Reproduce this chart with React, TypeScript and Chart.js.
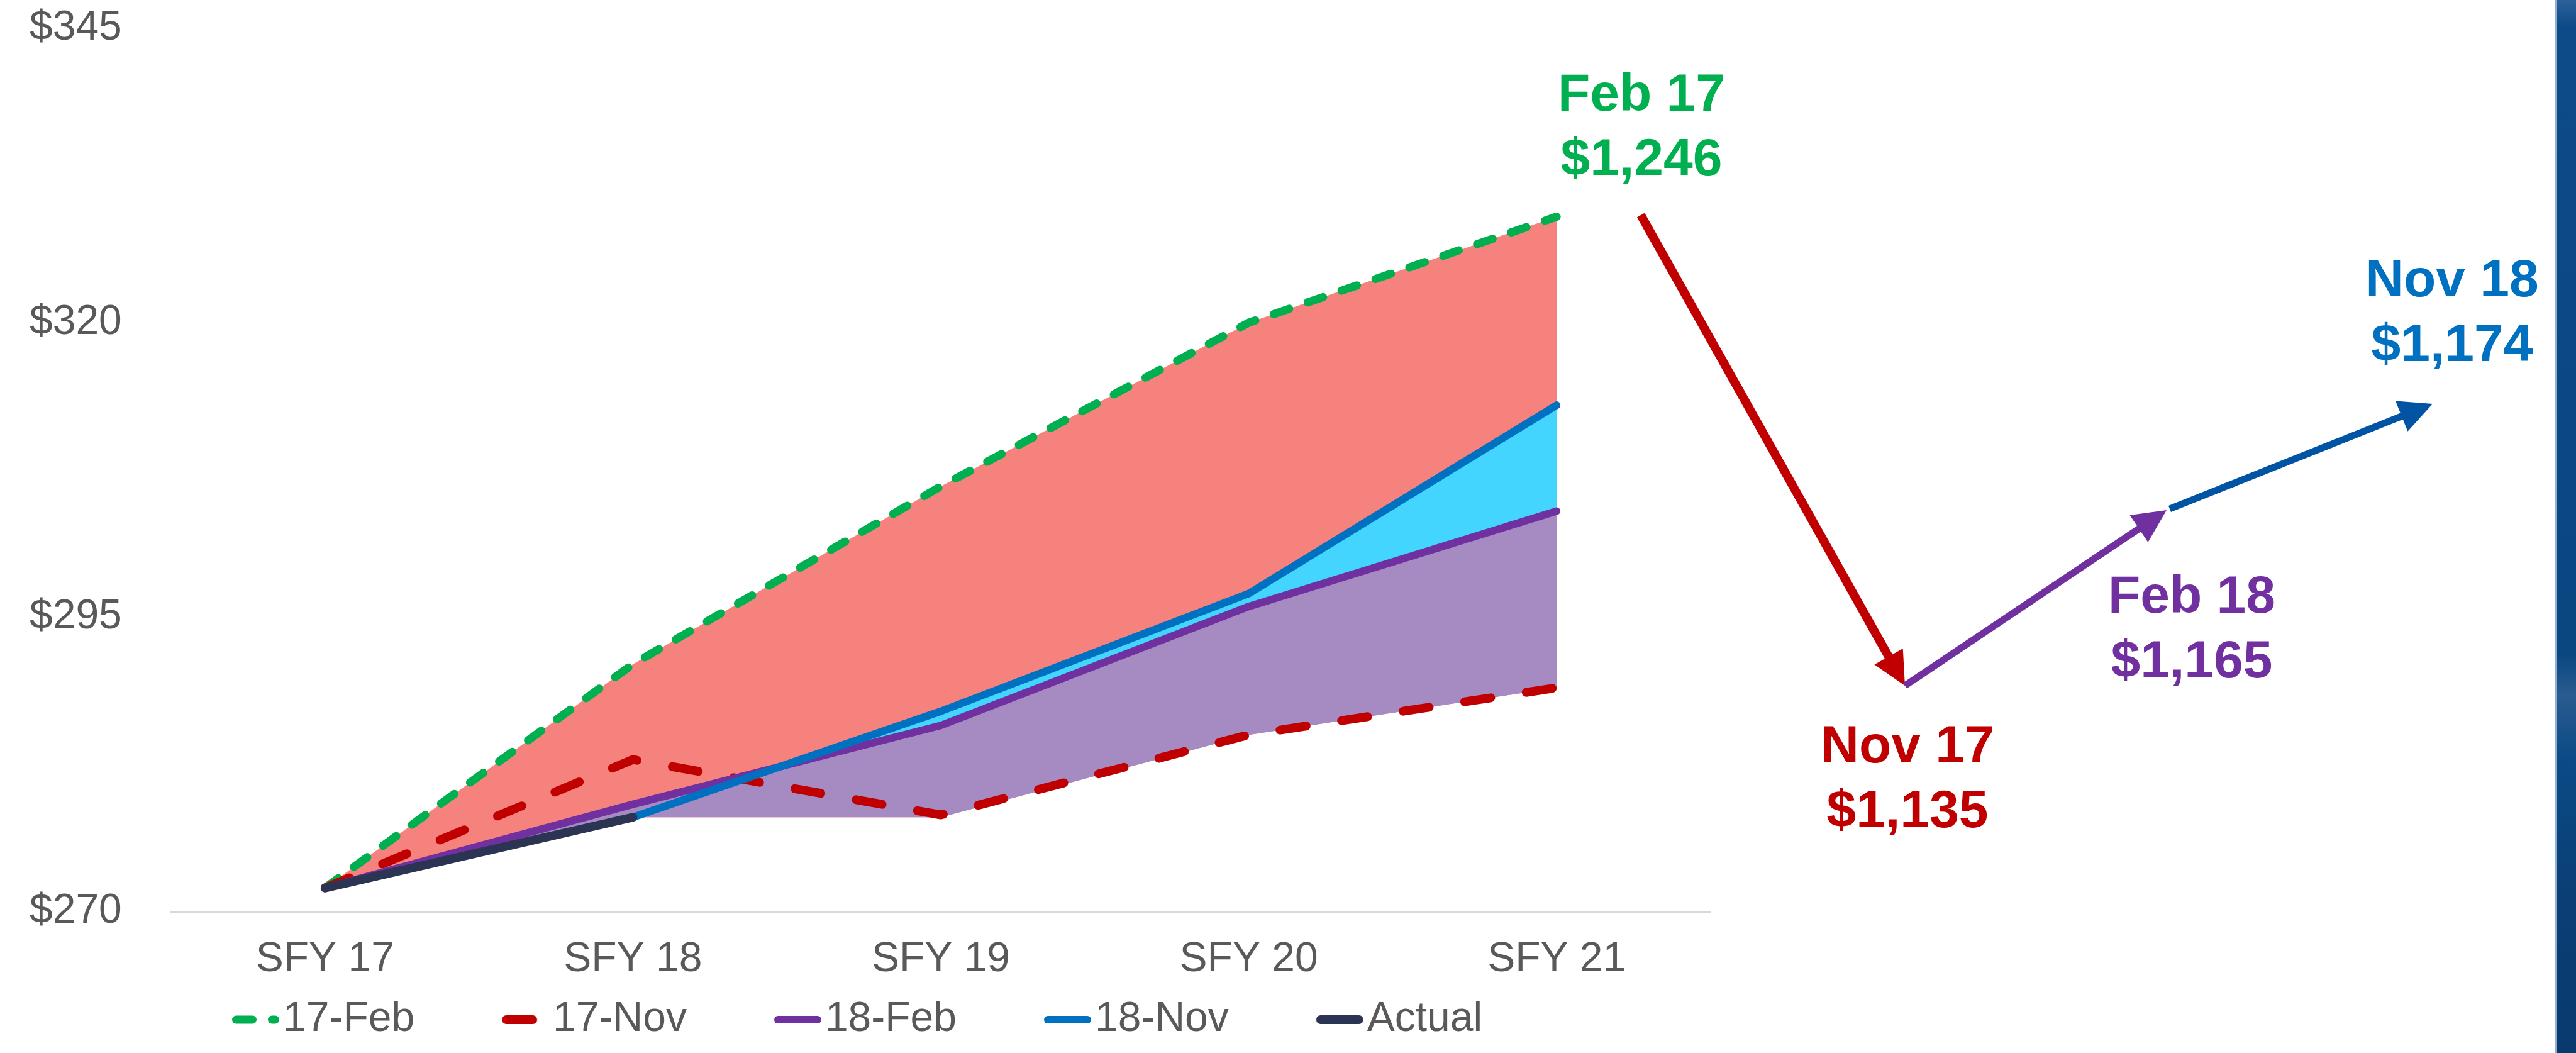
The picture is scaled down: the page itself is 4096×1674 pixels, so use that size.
import React, { useEffect, useRef } from 'react';
import { Chart, registerables } from 'chart.js';

Chart.register(...registerables);

// ---------------- data ----------------
const categories = ['SFY 17', 'SFY 18', 'SFY 19', 'SFY 20', 'SFY 21'];
const feb17 = [272, 291.0, 306.1, 320.0, 329.0];
const nov17 = [272, 282.9, 278.2, 285.0, 289.0];
const feb18 = [272, 279.1, 285.8, 295.9, 304.0];
const nov18 = [null, 278.0, 287.0, 297.0, 313.0];
const actual = [272, 278.0, null, null, null];
const bandFloor = [272, 278.0, 278.0, 285.0, 289.0];
const yTicks = [270, 295, 320, 345];
const calloutMonths = ['Feb 17', 'Nov 17', 'Feb 18', 'Nov 18'];
const calloutTotals = ['$1,246', '$1,135', '$1,165', '$1,174'];

// ---------------- style / layout ----------------
const FONT = "'Liberation Sans', Arial, Helvetica, sans-serif";
const TEXT_GREY = '#595959';
const C = {
  green: '#00B050',
  red: '#C00000',
  purple: '#7030A0',
  blue: '#0070C0',
  navy: '#2B3553',
  salmon: '#F5827C',
  lavender: '#A68BC2',
  cyan: '#43D5FE',
  arrowBlue: '#0153A4',
};
const W = 4096;
const H = 1674;
const CANVAS_W = 2726;
const TICK_FONT = 66;
const CALLOUT_FONT = 84;
const CALLOUT_LINE = 103;
const PLOT_LEFT = 272;
const PAD_LEFT = 230;
const Y_LABEL_LEFT = 47;

const lineSpecs = [
  { label: '17-Feb', data: feb17, color: C.green, width: 13, dash: [26, 31] },
  { label: '17-Nov', data: nov17, color: C.red, width: 14, dash: [42, 57] },
  { label: '18-Feb', data: feb18, color: C.purple, width: 12, dash: [] as number[] },
  { label: '18-Nov', data: nov18, color: C.blue, width: 12, dash: [] as number[] },
  { label: 'Actual', data: actual, color: C.navy, width: 14, dash: [] as number[] },
];

const LEG = { boxW: 170, imgW: 224, imgH: 24, symLen: 75, padding: 17 };

const calloutLayout = [
  { x: 2610, y: 146, color: C.green },
  { x: 3033, y: 1182, color: C.red },
  { x: 3485, y: 944, color: C.purple },
  { x: 3899, y: 441, color: C.blue },
];

const arrowLayout = [
  { color: C.red, from: [2609, 342], to: [3029, 1090], width: 14 },
  { color: C.purple, from: [3029, 1090], to: [3445, 811], width: 11 },
  { color: C.arrowBlue, from: [3450, 809], to: [3868, 642], width: 11 },
];
const HEAD_LEN = 53;
const HEAD_HW = 26;

function makeLegendSymbol(color: string, width: number, dash: number[]) {
  const c = document.createElement('canvas');
  c.width = LEG.imgW;
  c.height = LEG.imgH;
  const ctx = c.getContext('2d')!;
  ctx.strokeStyle = color;
  ctx.lineWidth = width;
  ctx.lineCap = 'round';
  ctx.setLineDash(dash);
  ctx.beginPath();
  ctx.moveTo(LEG.imgW - LEG.symLen + width / 2, LEG.imgH / 2);
  ctx.lineTo(LEG.imgW - width / 2, LEG.imgH / 2);
  ctx.stroke();
  return c;
}

function arrowGeom(a: { from: number[]; to: number[] }) {
  const [x1, y1] = a.from;
  const [x2, y2] = a.to;
  const dx = x2 - x1;
  const dy = y2 - y1;
  const len = Math.hypot(dx, dy);
  const ux = dx / len;
  const uy = dy / len;
  const px = -uy;
  const py = ux;
  const bx = x2 - ux * HEAD_LEN;
  const by = y2 - uy * HEAD_LEN;
  return {
    shaft: [x1, y1, bx + ux * 3, by + uy * 3],
    head: `${x2},${y2} ${bx + px * HEAD_HW},${by + py * HEAD_HW} ${bx - px * HEAD_HW},${by - py * HEAD_HW}`,
  };
}

export default function App() {
  const canvasRef = useRef<HTMLCanvasElement | null>(null);

  useEffect(() => {
    const canvas = canvasRef.current;
    if (!canvas) return;
    const symbols = lineSpecs.map((s) => makeLegendSymbol(s.color, s.width, s.dash));

    const lineSets = lineSpecs.map((s, i) => ({
      label: s.label,
      data: s.data,
      borderColor: s.color,
      backgroundColor: s.color,
      borderWidth: s.width,
      borderDash: s.dash,
      borderCapStyle: 'round',
      borderJoinStyle: 'round',
      pointRadius: 0,
      pointHoverRadius: 0,
      fill: false,
      tension: 0,
      spanGaps: false,
      order: 5 - i,
    }));
    const FLOOR = 5;
    const MID = 7;
    const clear = 'rgba(0,0,0,0)';
    const fillBase = { borderColor: clear, borderWidth: 0, pointRadius: 0, pointHoverRadius: 0, tension: 0 };
    const fillSets = [
      { ...fillBase, label: 'floor', data: bandFloor, fill: false, order: 9 },
      { ...fillBase, label: 'band-high', data: feb17, backgroundColor: C.salmon, fill: { target: FLOOR, above: C.salmon, below: C.salmon }, order: 8 },
      { ...fillBase, label: 'band-mid', data: feb18, backgroundColor: C.lavender, fill: { target: FLOOR, above: C.lavender, below: C.lavender }, order: 7 },
      { ...fillBase, label: 'band-up', data: nov18, backgroundColor: C.cyan, fill: { target: MID, above: C.cyan, below: clear }, order: 6 },
    ];

    const chart = new Chart(canvas, {
      type: 'line',
      data: { labels: categories, datasets: [...lineSets, ...fillSets] as any },
      options: {
        responsive: false,
        maintainAspectRatio: false,
        animation: false,
        devicePixelRatio: 1,
        events: [],
        layout: { padding: { left: PAD_LEFT, right: 6, top: 45, bottom: 10 } },
        scales: {
          x: {
            type: 'category',
            offset: true,
            grid: { display: false, drawTicks: false },
            border: { display: true, color: '#D9D9D9', width: 3 },
            ticks: { color: TEXT_GREY, font: { size: TICK_FONT, family: FONT }, padding: 37, maxRotation: 0, autoSkip: false },
            afterFit: (s: any) => { s.height = 122; },
          },
          y: {
            min: yTicks[0],
            max: yTicks[yTicks.length - 1],
            grid: { display: false, drawTicks: false },
            border: { display: false },
            afterBuildTicks: (s: any) => { s.ticks = yTicks.map((v) => ({ value: v })); },
            ticks: {
              color: TEXT_GREY,
              font: { size: TICK_FONT, family: FONT },
              mirror: true,
              crossAlign: 'near',
              padding: -(PLOT_LEFT - Y_LABEL_LEFT),
              callback: (v: any) => '$' + v,
            },
            afterFit: (s: any) => {
              s.width = PLOT_LEFT - PAD_LEFT;
              s.paddingTop = 0;
              s.paddingBottom = 0;
            },
          },
        },
        plugins: {
          tooltip: { enabled: false },
          legend: {
            position: 'bottom',
            align: 'start',
            labels: {
              usePointStyle: true,
              pointStyleWidth: LEG.boxW,
              padding: LEG.padding,
              color: TEXT_GREY,
              font: { size: TICK_FONT, family: FONT },
              generateLabels: (ch: any) =>
                (Chart.defaults.plugins.legend.labels.generateLabels as any)(ch)
                  .filter((it: any) => it.datasetIndex < lineSpecs.length)
                  .sort((a: any, b: any) => a.datasetIndex - b.datasetIndex)
                  .map((it: any) => ({ ...it, pointStyle: symbols[it.datasetIndex] })),
            },
          },
        },
      } as any,
    });
    return () => chart.destroy();
  }, []);

  return (
    <div style={{ position: 'absolute', left: 0, top: 0, width: W, height: H, overflow: 'hidden', background: '#ffffff' }}>
      <canvas
        ref={canvasRef}
        width={CANVAS_W}
        height={H}
        style={{ position: 'absolute', left: 0, top: 0, width: CANVAS_W, height: H, display: 'block' }}
      />
      <svg width={W} height={H} style={{ position: 'absolute', left: 0, top: 0 }}>
        {arrowLayout.map((a, i) => {
          const g = arrowGeom(a);
          return (
            <g key={i}>
              <line x1={g.shaft[0]} y1={g.shaft[1]} x2={g.shaft[2]} y2={g.shaft[3]} stroke={a.color} strokeWidth={a.width} strokeLinecap="butt" />
              <polygon points={g.head} fill={a.color} />
            </g>
          );
        })}
      </svg>
      {calloutLayout.map((c, i) => (
        <div
          key={i}
          style={{
            position: 'absolute',
            left: c.x - 250,
            top: c.y - CALLOUT_LINE / 2 + 1,
            width: 500,
            textAlign: 'center',
            fontFamily: FONT,
            fontWeight: 'bold',
            fontSize: CALLOUT_FONT,
            lineHeight: `${CALLOUT_LINE}px`,
            color: c.color,
            whiteSpace: 'pre',
          }}
        >
          <div>{calloutMonths[i]}</div>
          <div>{calloutTotals[i]}</div>
        </div>
      ))}
      <div
        style={{
          position: 'absolute',
          left: 4063,
          top: 0,
          width: W - 4063,
          height: H,
          background:
            'linear-gradient(180deg, #2D6198 0%, #0D4B88 2.5%, #0B4784 40%, #0A4680 62%, #2A5C90 66%, #0B4A86 72%, #0A3F75 85%, #083A6E 100%)',
          borderLeft: '3px solid #8FB0CF',
          boxSizing: 'border-box',
        }}
      />
    </div>
  );
}
